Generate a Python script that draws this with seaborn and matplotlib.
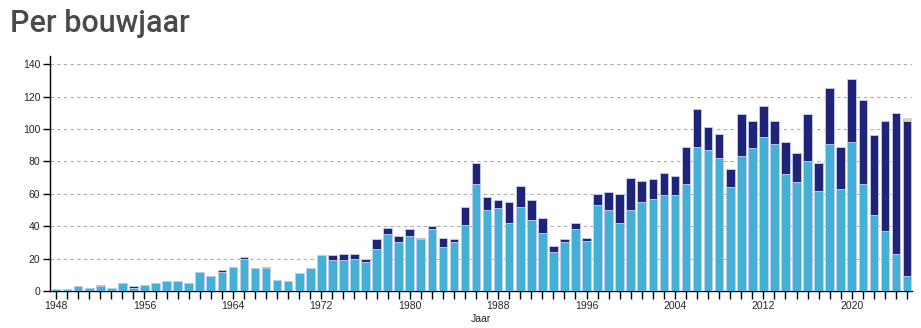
import numpy as np
import pandas as pd
import matplotlib
matplotlib.use("Agg")
import matplotlib.pyplot as plt
import seaborn as sns

years = list(range(1948, 2026))
light = [1, 1, 3, 2, 3, 2, 5, 2, 4, 5, 6, 6, 5, 12, 9, 12, 15, 20, 14, 14, 7, 6, 11, 14,
         22, 19, 19, 20, 18, 26, 35, 30, 34, 32, 38, 27, 30, 41, 66, 50, 51, 42, 52, 44,
         36, 24, 30, 38, 31, 53, 50, 42, 50, 55, 57, 59, 59, 66, 89, 87, 82, 64, 83, 88,
         95, 91, 72, 67, 80, 62, 91, 63, 92, 66, 47, 37, 23, 9]
dark = [0, 0, 0, 0, 1, 0, 0, 1, 0, 0, 0, 0, 0, 0, 0, 1, 0, 1, 0, 1, 0, 0, 0, 0,
        0, 3, 4, 3, 2, 6, 4, 4, 4, 1, 2, 6, 2, 11, 13, 8, 5, 13, 13, 12,
        9, 4, 2, 4, 2, 7, 11, 18, 20, 13, 12, 14, 12, 23, 23, 14, 15, 11, 26, 17,
        19, 14, 20, 18, 29, 17, 34, 26, 39, 52, 49, 68, 87, 96]
other = [0] * 77 + [2]

df = pd.DataFrame({"jaar": years, "light": light, "dark": dark, "other": other})
df["t_dark"] = df["light"] + df["dark"]
df["t_other"] = df["t_dark"] + df["other"]

sns.set_style("white")
plt.rcParams["font.family"] = ["Liberation Sans", "DejaVu Sans"]

fig = plt.figure(figsize=(9.21, 3.28), dpi=100)
ax = fig.add_axes([50 / 921, 1 - 291 / 328, 862 / 921, 235 / 328])

c_light = "#45b0d5"
c_dark = "#1f2478"
c_other = "#e8d68c"
edge = "#c9d2ee"
kw = dict(native_scale=True, width=0.78, linewidth=0.6, edgecolor=edge, ax=ax, zorder=3)
sns.barplot(data=df, x="jaar", y="t_other", color=c_other, saturation=1, **kw)
sns.barplot(data=df, x="jaar", y="t_dark", color=c_dark, saturation=1, **kw)
sns.barplot(data=df, x="jaar", y="light", color=c_light, saturation=1, **kw)

ax.set_xlim(1947.45, 2025.45)
ax.set_ylim(0, 145)
ax.set_yticks(range(0, 141, 20))
ax.set_xticks(range(1948, 2021, 8))
ax.set_xticks(years, minor=True)
ax.tick_params(axis="x", which="both", length=6, width=1, color="black", direction="out",
               bottom=True, labelsize=7.5, pad=1)
ax.tick_params(axis="y", length=5, width=1, color="black", direction="out", left=True,
               labelsize=7.5, pad=2)
for y in range(20, 141, 20):
    ax.axhline(y, color="#ababab", lw=0.8, ls=(0, (3, 3)), zorder=1)
for s in ["top", "right"]:
    ax.spines[s].set_visible(False)
for s in ["left", "bottom"]:
    ax.spines[s].set_color("black")
    ax.spines[s].set_linewidth(1)
ax.set_xlabel("Jaar", fontsize=7.5, labelpad=2)
ax.set_ylabel("")

fig.text(10 / 921, 1 - 24 / 328, "Per bouwjaar", fontsize=22, color="#4a4a4a",
         family=["Roboto", "DejaVu Sans"], fontweight="medium", va="center", ha="left")

fig.savefig("out.png", dpi=100)
